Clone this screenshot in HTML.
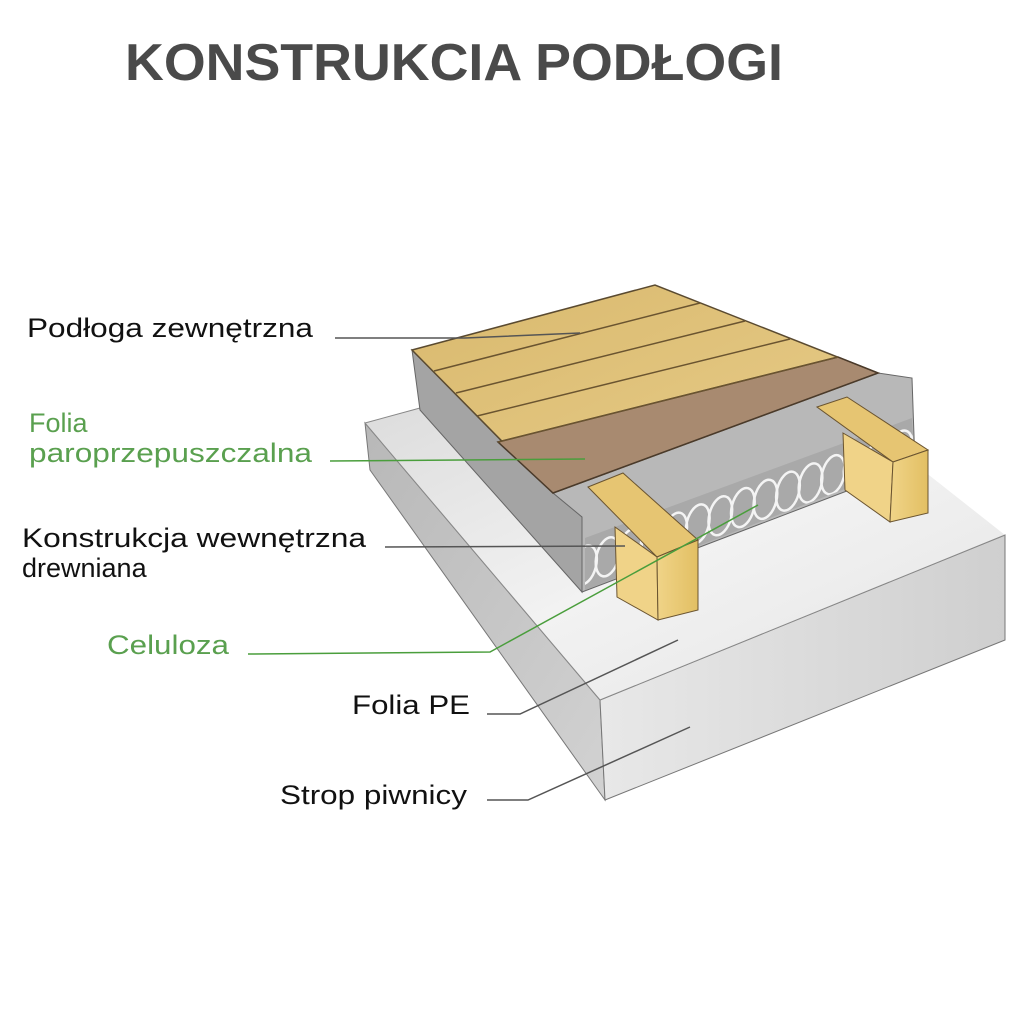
<!DOCTYPE html>
<html><head><meta charset="utf-8"><style>html,body{margin:0;padding:0;background:#fff}svg{display:block}</style></head>
<body>
<svg width="1024" height="1024" viewBox="0 0 1024 1024" xmlns="http://www.w3.org/2000/svg">
<defs>
<linearGradient id="baseTop" x1="0" y1="0" x2="1" y2="1"><stop offset="0" stop-color="#dcdcdc"/><stop offset="0.5" stop-color="#f2f2f2"/><stop offset="1" stop-color="#e4e4e4"/></linearGradient>
<linearGradient id="baseFront" x1="0" y1="0" x2="1" y2="0"><stop offset="0" stop-color="#e8e8e8"/><stop offset="1" stop-color="#cfcfcf"/></linearGradient>
<linearGradient id="baseLeft" x1="0" y1="0" x2="1" y2="1"><stop offset="0" stop-color="#b8b8b8"/><stop offset="1" stop-color="#d2d2d2"/></linearGradient>
<linearGradient id="wood" x1="0" y1="0" x2="1" y2="1"><stop offset="0" stop-color="#d9b96e"/><stop offset="1" stop-color="#e8cd8a"/></linearGradient>
<linearGradient id="joist" x1="0" y1="0" x2="1" y2="0"><stop offset="0" stop-color="#f0d488"/><stop offset="1" stop-color="#e2bf63"/></linearGradient>
<clipPath id="band"><polygon points="585,538 912,418 914,462 585,590"/></clipPath>
</defs>

<text x="125" y="80" font-family="Liberation Sans, sans-serif" font-weight="bold" font-size="52" fill="#4a4a4a" textLength="658" lengthAdjust="spacingAndGlyphs">KONSTRUKCIA PODŁOGI</text>

<!-- base slab -->
<polygon points="365,423 600,700 605,800 370,470" fill="url(#baseLeft)" stroke="#777" stroke-width="1"/>
<polygon points="600,700 1005,535 1005,640 605,800" fill="url(#baseFront)" stroke="#777" stroke-width="1"/>
<polygon points="365,423 440,402 920,468 1005,535 600,700" fill="url(#baseTop)"/>
<polyline points="365,423 600,700 1005,535" fill="none" stroke="#888" stroke-width="1"/>
<line x1="365" y1="423" x2="420" y2="408" stroke="#888" stroke-width="1"/>

<!-- upper slab -->
<polygon points="412,350 582,517 582,592 420,410" fill="#a4a4a4" stroke="#666" stroke-width="1"/>
<polygon points="553,493 878,373 912,378 915,465 582,592 582,517" fill="#b8b8b8" stroke="#666" stroke-width="1"/>
<!-- insulation band -->
<polygon points="585,538 912,418 914,462 585,590" fill="#a9a9a9"/>
<g clip-path="url(#band)" fill="none" stroke="#f4f4f4" stroke-width="2.5">
<g transform="translate(585,565) rotate(-20)">
<ellipse cx="0" cy="0" rx="11" ry="20" transform="rotate(35)"/>
<ellipse cx="24" cy="0" rx="11" ry="20" transform="translate(24,0) rotate(35) translate(-24,0)"/>
<ellipse cx="48" cy="0" rx="11" ry="20" transform="translate(48,0) rotate(35) translate(-48,0)"/>
<ellipse cx="72" cy="0" rx="11" ry="20" transform="translate(72,0) rotate(35) translate(-72,0)"/>
<ellipse cx="96" cy="0" rx="11" ry="20" transform="translate(96,0) rotate(35) translate(-96,0)"/>
<ellipse cx="120" cy="0" rx="11" ry="20" transform="translate(120,0) rotate(35) translate(-120,0)"/>
<ellipse cx="144" cy="0" rx="11" ry="20" transform="translate(144,0) rotate(35) translate(-144,0)"/>
<ellipse cx="168" cy="0" rx="11" ry="20" transform="translate(168,0) rotate(35) translate(-168,0)"/>
<ellipse cx="192" cy="0" rx="11" ry="20" transform="translate(192,0) rotate(35) translate(-192,0)"/>
<ellipse cx="216" cy="0" rx="11" ry="20" transform="translate(216,0) rotate(35) translate(-216,0)"/>
<ellipse cx="240" cy="0" rx="11" ry="20" transform="translate(240,0) rotate(35) translate(-240,0)"/>
<ellipse cx="264" cy="0" rx="11" ry="20" transform="translate(264,0) rotate(35) translate(-264,0)"/>
<ellipse cx="288" cy="0" rx="11" ry="20" transform="translate(288,0) rotate(35) translate(-288,0)"/>
<ellipse cx="312" cy="0" rx="11" ry="20" transform="translate(312,0) rotate(35) translate(-312,0)"/>
<ellipse cx="336" cy="0" rx="11" ry="20" transform="translate(336,0) rotate(35) translate(-336,0)"/>
<ellipse cx="360" cy="0" rx="11" ry="20" transform="translate(360,0) rotate(35) translate(-360,0)"/>
</g>
</g>

<!-- boards -->
<polygon points="412,350 655,285 878,373 553,493" fill="url(#wood)" stroke="#5a4a30" stroke-width="1.5"/>
<polygon points="498,442 838,357 878,373 553,493" fill="#a88a70" stroke="#4a3a2a" stroke-width="1.5"/>
<g stroke="#6a5430" stroke-width="1.5">
<line x1="434" y1="371" x2="700" y2="303"/>
<line x1="456" y1="393" x2="745" y2="321"/>
<line x1="477" y1="416" x2="790" y2="339"/>
<line x1="498" y1="442" x2="838" y2="357"/>
</g>

<!-- left joist -->
<polygon points="588,487 623,473 698,540 657,557" fill="#e6c572" stroke="#6a5430" stroke-width="1"/>
<polygon points="615,527 657,557 658,620 617,597" fill="#f0d388" stroke="#6a5430" stroke-width="1"/>
<polygon points="657,557 698,540 698,610 658,620" fill="url(#joist)" stroke="#6a5430" stroke-width="1"/>
<!-- right joist -->
<polygon points="817,407 847,397 928,450 893,462" fill="#e6c572" stroke="#6a5430" stroke-width="1"/>
<polygon points="843,433 893,462 890,522 845,490" fill="#f0d388" stroke="#6a5430" stroke-width="1"/>
<polygon points="893,462 928,450 928,513 890,522" fill="url(#joist)" stroke="#6a5430" stroke-width="1"/>

<!-- leader lines -->
<g fill="none" stroke-width="1.5">
<polyline points="335,338 465,338 580,333" stroke="#555"/>
<polyline points="330,461 585,459" stroke="#4a9e3c"/>
<polyline points="385,547 625,546" stroke="#555"/>
<polyline points="248,654 490,652 758,505" stroke="#4a9e3c"/>
<polyline points="487,714 520,714 678,640" stroke="#555"/>
<polyline points="487,800 528,800 690,727" stroke="#555"/>
</g>

<g font-family="Liberation Sans, sans-serif" font-size="27">
<text x="27" y="337" fill="#111" textLength="286" lengthAdjust="spacingAndGlyphs">Podłoga zewnętrzna</text>
<text x="29" y="432" fill="#5aa04f">Folia</text>
<text x="29" y="462" fill="#5aa04f" textLength="283" lengthAdjust="spacingAndGlyphs">paroprzepuszczalna</text>
<text x="22" y="547" fill="#111" textLength="344" lengthAdjust="spacingAndGlyphs">Konstrukcja wewnętrzna</text>
<text x="22" y="577" fill="#111">drewniana</text>
<text x="107" y="654" fill="#5aa04f" textLength="122" lengthAdjust="spacingAndGlyphs">Celuloza</text>
<text x="352" y="714" fill="#111" textLength="118" lengthAdjust="spacingAndGlyphs">Folia PE</text>
<text x="280" y="804" fill="#111" textLength="187" lengthAdjust="spacingAndGlyphs">Strop piwnicy</text>
</g>
</svg>
</body></html>
